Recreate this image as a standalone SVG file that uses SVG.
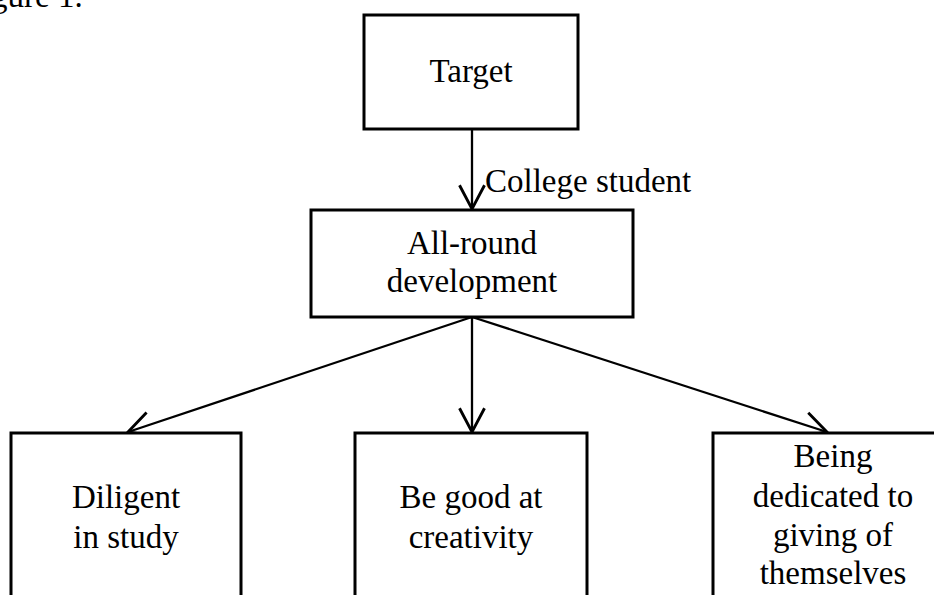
<svg xmlns="http://www.w3.org/2000/svg" width="934" height="595" viewBox="0 0 934 595">
<style>
.box{fill:#fff;stroke:#000;stroke-width:3}
.t{font-family:"Liberation Serif","Times New Roman",serif;font-size:33px;fill:#000;text-anchor:middle}
.c{fill:none;stroke:#000;stroke-width:2.3}
</style>
<defs>
<marker id="arr" markerUnits="userSpaceOnUse" markerWidth="30" markerHeight="30" viewBox="-20 -12 22 24" refX="0" refY="0" orient="auto" overflow="visible">
<path d="M-19,-10 L0,0 L-19,10" fill="none" stroke="#000" stroke-width="2.3"/>
</marker>
</defs>
<rect width="934" height="595" fill="#fff"/>
<text x="-9" y="7" class="t" style="text-anchor:start">gure 1.</text>
<g id="connectors">
<line class="c" x1="472" y1="129" x2="472" y2="209" marker-end="url(#arr)"/>
<text x="485" y="192" class="t" style="text-anchor:start">College student</text>
<line class="c" x1="472" y1="317" x2="128" y2="432" marker-end="url(#arr)"/>
<line class="c" x1="472" y1="317" x2="472" y2="432" marker-end="url(#arr)"/>
<line class="c" x1="472" y1="317" x2="827" y2="432" marker-end="url(#arr)"/>
</g>
<g id="target">
<rect class="box" x="364" y="15" width="214" height="114"/>
<text x="471" y="82" class="t">Target</text>
</g>
<g id="allround">
<rect class="box" x="311" y="210" width="322" height="107"/>
<text x="472" y="254" class="t">All-round</text>
<text x="472" y="292" class="t">development</text>
</g>
<g id="diligent">
<rect class="box" x="11" y="433" width="230" height="200"/>
<text x="126" y="508" class="t">Diligent</text>
<text x="126" y="548" class="t">in study</text>
</g>
<g id="creativity">
<rect class="box" x="355" y="433" width="232" height="200"/>
<text x="471" y="508" class="t">Be good at</text>
<text x="471" y="548" class="t">creativity</text>
</g>
<g id="dedicated">
<rect class="box" x="713" y="433" width="260" height="200"/>
<text x="833" y="467" class="t">Being</text>
<text x="833" y="507" class="t">dedicated to</text>
<text x="833" y="546" class="t">giving of</text>
<text x="833" y="584" class="t">themselves</text>
</g>
</svg>
